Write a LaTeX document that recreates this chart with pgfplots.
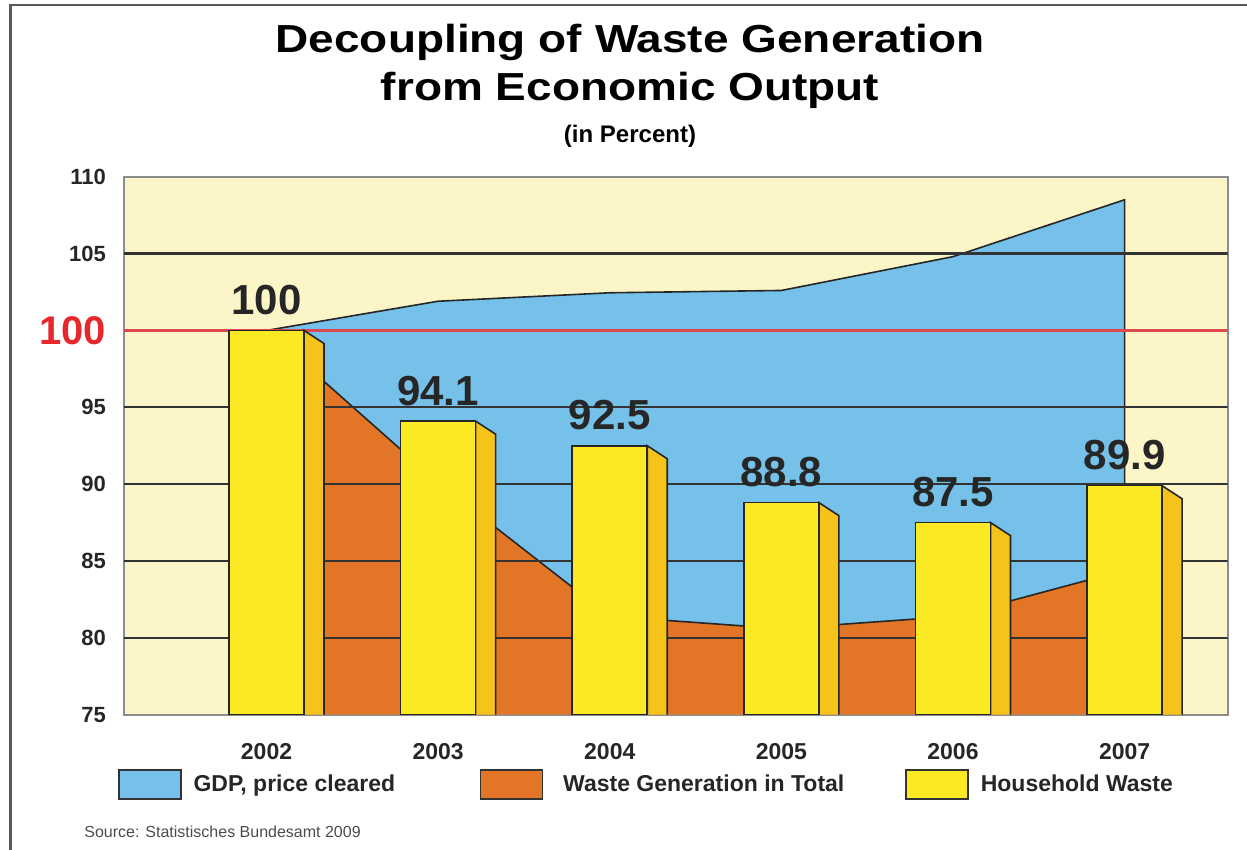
\documentclass[border=0pt]{standalone}
\usepackage{pgfplots}
\pgfplotsset{compat=1.18}
\usepackage{fontspec}
\setmainfont{Liberation Sans}

\definecolor{bgyellow}{RGB}{252,245,200}
\definecolor{gdpblue}{RGB}{118,193,233}
\definecolor{wasteorange}{RGB}{226,117,38}
\definecolor{baryellow}{RGB}{250,233,35}
\definecolor{sideyellow}{RGB}{245,195,25}
\definecolor{redline}{RGB}{222,72,80}
\definecolor{redtext}{RGB}{230,40,45}

\pgfplotsset{
  legbox/.style={legend image code/.code={\draw[##1,draw=black!80,line width=0.8pt] (0pt,-7.25pt) rectangle (31pt,7.25pt);}},
  sideface/.style={fill=sideyellow,draw=black!85,line width=0.8pt},
  gridline/.style={black!80,line width=1.1pt},
}

\begin{document}
\begin{tikzpicture}[x=1pt,y=1pt]
\useasboundingbox (0,0) rectangle (623.5,425);
% frame
\draw[black!65,line width=1.3pt] (5.25,0) -- (5.25,422.5) -- (623.5,422.5);
% titles
\node[anchor=base] at (315,398.5) {\scalebox{1}[0.85]{\fontsize{23}{23}\selectfont\bfseries Decoupling of Waste Generation}};
\node[anchor=base] at (315,374.5) {\scalebox{1}[0.85]{\fontsize{23}{23}\selectfont\bfseries from Economic Output}};
\node[anchor=base] at (315,353.5) {\fontsize{12}{12}\selectfont\bfseries (in Percent)};
\node[anchor=base west,inner sep=0pt] at (42,6) {\fontsize{8}{8}\selectfont\color{black!70}Source: Statistisches Bundesamt 2009};

\begin{axis}[
  at={(72,88)}, anchor=south west,
  scale only axis, width=552pt, height=269pt,
  xmin=-0.833, xmax=5.6, ymin=75, ymax=110,
  axis background/.style={fill=bgyellow},
  axis line style={black!45,line width=1pt},
  major tick length=0pt,
  ytick={75,80,85,90,95,100,105,110},
  yticklabels={75,80,85,90,95,{\textcolor{redtext}{\fontsize{20}{20}\selectfont 100}\hspace{2pt}},105,110},
  yticklabel style={font=\fontsize{11}{11}\selectfont\bfseries,text=black!85,xshift=-5.3pt},
  xtick={0,1,2,3,4,5},
  xticklabels={2002,2003,2004,2005,2006,2007},
  xticklabel style={font=\fontsize{11.5}{11.5}\selectfont\bfseries,text=black!85,yshift=-11pt},
  /pgf/number format/assume math mode=true,
  legend style={at={(-0.0054,-0.1292)},anchor=west,legend columns=-1,draw=none,fill=none,
    inner sep=0pt,font=\fontsize{11.5}{11.5}\selectfont\bfseries,text=black!85,
    /tikz/every odd column/.style={column sep=4pt},
    /tikz/every even column/.style={column sep=0pt}},
  legend cell align=left,
]
\addlegendimage{legbox,fill=gdpblue}
\addlegendimage{legbox,fill=wasteorange}
\addlegendimage{legbox,fill=baryellow}

% GDP, price cleared
\addplot[fill=gdpblue,draw=black!85,line width=0.8pt]
  coordinates {(0,75) (0,100) (1,101.9) (2,102.45) (3,102.6) (4,104.8) (5,108.5) (5,75)};
% Waste generation in total
\addplot[fill=wasteorange,draw=black!85,line width=0.8pt]
  coordinates {(0,75) (0,100) (1,90.1) (2,81.4) (3,80.6) (4,81.4) (5,84.4) (5,75)};

% grid lines over the areas
\addplot[gridline] coordinates {(-0.833,80) (5.6,80)};
\addplot[gridline] coordinates {(-0.833,85) (5.6,85)};
\addplot[gridline] coordinates {(-0.833,90) (5.6,90)};
\addplot[gridline] coordinates {(-0.833,95) (5.6,95)};
\addplot[gridline] coordinates {(-0.833,105) (5.6,105)};
% 100 reference line
\addplot[redline,line width=1.4pt] coordinates {(-0.833,100) (5.6,100)};

% household waste: side faces
\addplot[sideface] coordinates {(0.2185,75) (0.2185,100) (0.335,99.15) (0.335,75)};
\addplot[sideface] coordinates {(1.2185,75) (1.2185,94.1) (1.335,93.25) (1.335,75)};
\addplot[sideface] coordinates {(2.2185,75) (2.2185,92.5) (2.335,91.65) (2.335,75)};
\addplot[sideface] coordinates {(3.2185,75) (3.2185,88.8) (3.335,87.95) (3.335,75)};
\addplot[sideface] coordinates {(4.2185,75) (4.2185,87.5) (4.335,86.65) (4.335,75)};
\addplot[sideface] coordinates {(5.2185,75) (5.2185,89.9) (5.335,89.05) (5.335,75)};

% household waste: front faces
\addplot[ybar,bar width=0.437,bar shift=0pt,fill=baryellow,draw=black!85,line width=0.8pt,
  nodes near coords={\pgfmathprintnumber[fixed,precision=1]{\pgfplotspointmeta}},
  every node near coord/.append style={font=\fontsize{21}{21}\selectfont\bfseries,text=black!85,anchor=south,yshift=4pt}]
  coordinates {(0,100) (1,94.1) (2,92.5) (3,88.8) (4,87.5) (5,89.9)};

\legend{\makebox[141pt][l]{GDP, price cleared},\makebox[173pt][l]{\hspace{4pt}Waste Generation in Total},Household Waste}
\end{axis}
\end{tikzpicture}
\end{document}
